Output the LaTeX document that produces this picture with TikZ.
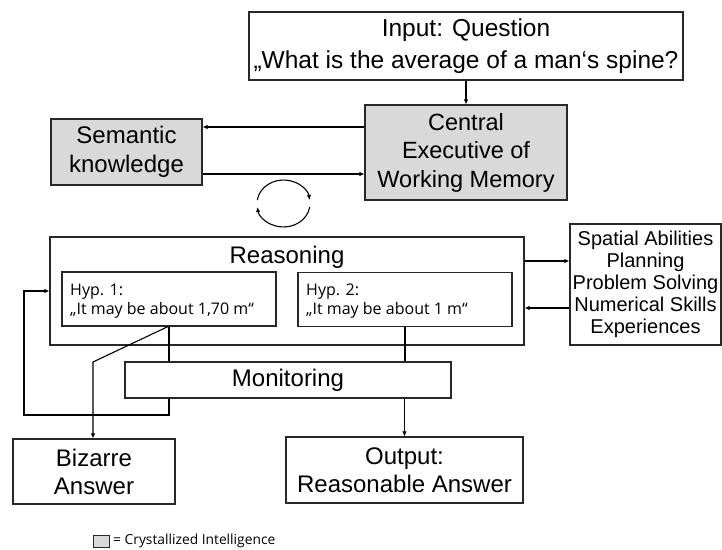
\documentclass[tikz,border=0pt]{standalone}
\usepackage{fontspec}
\setmainfont{Liberation Sans}
\newfontfamily\calfont{Open Sans}
\usetikzlibrary{arrows.meta}
\definecolor{boxgray}{RGB}{217,217,217}
\definecolor{edge}{RGB}{40,40,40}
\tikzset{
  box/.style={draw=edge, line width=1.1pt, fill=white, inner sep=0pt, align=center,
              font=\fontsize{24}{29}\selectfont},
  graybox/.style={box, fill=boxgray},
  hypbox/.style={draw=edge, line width=1.1pt, fill=white, inner sep=0pt, minimum width=214pt,
              minimum height=54pt},
  hyptext/.style={anchor=north west, inner sep=0pt, align=left,
              font=\calfont\fontsize{16}{19.5}\selectfont},
  line/.style={draw=black, line width=1.1pt},
  arr/.style={line, -{Latex[length=5pt,width=4.5pt]}},
}
\begin{document}
\begin{tikzpicture}[x=1pt,y=-1pt]
\useasboundingbox (0,0) rectangle (722,549);

% boxes
\node[box, minimum width=434pt, minimum height=68pt, font=\fontsize{24.5}{32}\selectfont]
  (input) at (466,46)
  {Input: Question\\„What is the average of a man‘s spine?};
\node[graybox, minimum width=202pt, minimum height=95pt, font=\fontsize{23.5}{28.5}\selectfont]
  (central) at (466,152.5)
  {Central\\Executive of\\Working Memory};
\node[graybox, minimum width=151pt, minimum height=66pt] (semantic) at (126.5,152)
  {Semantic\\knowledge};
\node[box, minimum width=474pt, minimum height=108pt] (reasoning) at (287,291) {};
\node[font=\fontsize{24}{29}\selectfont, anchor=base, inner sep=0pt] (reasoningtxt)
  at (287,263.5) {Reasoning};
\node[hypbox] (hyp1) at (169,299) {};
\node[hypbox] (hyp2) at (405,299.5) {};
\node[hyptext] (hyp1txt) at (70,283.5) {Hyp. 1:\\„It may be about 1,70 m“};
\node[hyptext] (hyp2txt) at (306,283.5) {Hyp. 2:\\„It may be about 1 m“};
\node[box, minimum width=151pt, minimum height=121pt, font=\fontsize{20}{22}\selectfont]
  (spatial) at (645.5,284.5)
  {Spatial Abilities\\Planning\\Problem Solving\\Numerical Skills\\Experiences};
\node[box, minimum width=326pt, minimum height=36pt] (monitoring) at (288,380) {Monitoring};
\node[box, minimum width=162pt, minimum height=65pt, font=\fontsize{24}{28}\selectfont]
  (bizarre) at (94,471.5) {Bizarre\\Answer};
\node[box, minimum width=237pt, minimum height=66pt, font=\fontsize{24}{28}\selectfont]
  (output) at (404.5,470) {Output:\\Reasonable Answer};

% legend
\node[draw=edge, line width=0.8pt, fill=boxgray, minimum width=16pt, minimum height=12pt,
      inner sep=0pt] (legsq) at (101,541) {};
\node[anchor=west, inner sep=0pt, font=\calfont\fontsize{13.8}{16}\selectfont]
  (legtxt) at (113,541) {= Crystallized Intelligence};

% connectors
\draw[arr] (input.south) -- (central.north);
\draw[arr] (central.west |- 0,127) -- (semantic.east |- 0,127);
\draw[arr] (semantic.east |- 0,174) -- (central.west |- 0,174);

% cycle symbol
\draw[arr] (283.5,203.5) ++(188.5:26.5 and 23.5)
  arc[start angle=188.5, end angle=351.5, x radius=26.5, y radius=23.5];
\draw[arr] (283.5,203.5) ++(8.6:26.5 and 23.5)
  arc[start angle=8.6, end angle=171.4, x radius=26.5, y radius=23.5];

\draw[arr] (reasoning.east |- 0,261) -- (spatial.west |- 0,261);
\draw[arr] (spatial.west |- 0,308) -- (reasoning.east |- 0,308);

\draw[line] (hyp2.south) -- (hyp2.south |- monitoring.north);
\draw[arr] (monitoring.south -| output.north) -- (output.north);

\coordinate (h1) at (169,0);
\draw[line] (hyp1.south -| h1) -- (h1 |- monitoring.north);
\coordinate (fb) at (24,415);
\draw[arr] (monitoring.south -| h1) -- (h1 |- fb) -- (fb) -- (fb |- 0,291) -- (reasoning.west |- 0,291);

\coordinate (bend) at (93,362);
\draw[arr] (hyp1.south -| 168,0) -- (bend) -- (bend |- bizarre.north);
\end{tikzpicture}
\end{document}
